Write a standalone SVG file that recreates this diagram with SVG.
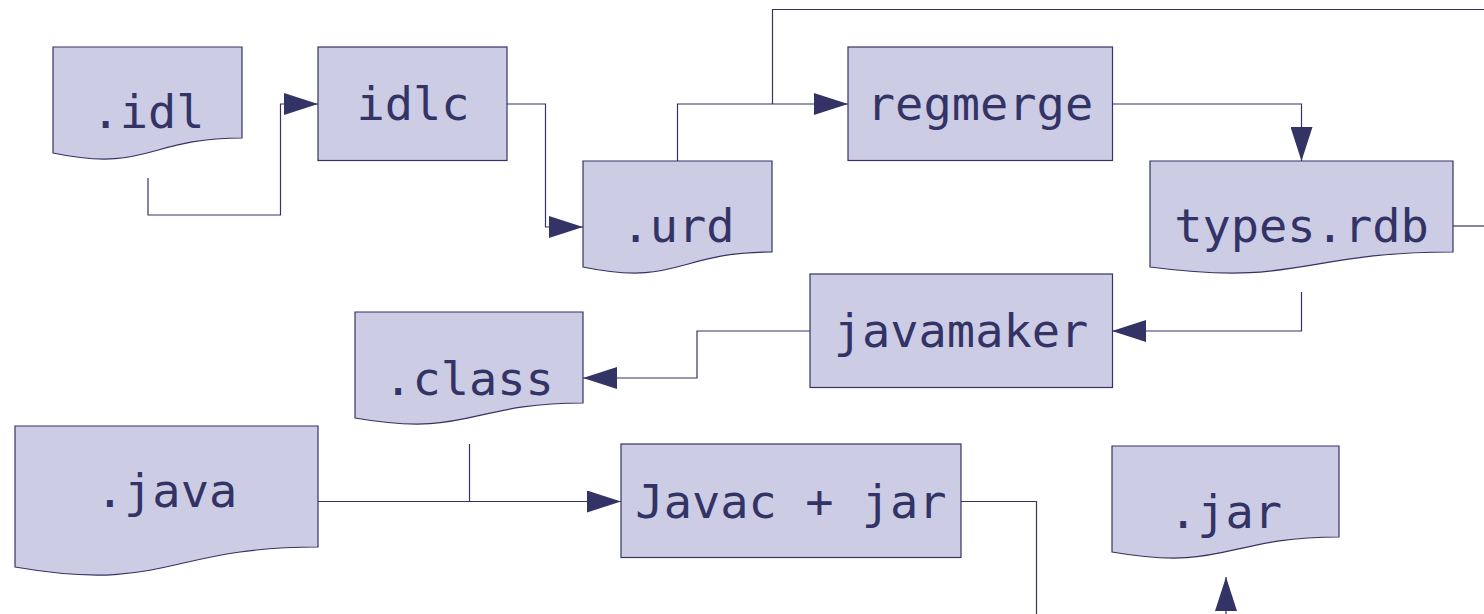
<svg xmlns="http://www.w3.org/2000/svg" width="1484" height="614" viewBox="0 0 1484 614">
<style>
.shape{fill:#cccce4;stroke:#333366;stroke-width:1.2}
.lbl{font-family:"DejaVu Sans Mono","Liberation Mono",monospace;font-size:47px;fill:#333366;text-anchor:middle}
.conn{fill:none;stroke:#333366;stroke-width:1.2}
</style>
<defs>
<marker id="arr" markerUnits="userSpaceOnUse" markerWidth="34" markerHeight="22" refX="34" refY="11" orient="auto">
<path d="M0,0 L34,11 L0,22 Z" fill="#333366"/>
</marker>
</defs>
<rect width="1484" height="614" fill="#ffffff"/>
<g id="connectors">
<path class="conn" d="M148,178 V215 H280.5 V104 H318" marker-end="url(#arr)"/>
<path class="conn" d="M507,104 H545.5 V227 H583" marker-end="url(#arr)"/>
<path class="conn" d="M677.5,161 V104 H848" marker-end="url(#arr)"/>
<path class="conn" d="M772.5,104 V9.5 H1484"/>
<path class="conn" d="M1112,104 H1301.5 V161" marker-end="url(#arr)"/>
<path class="conn" d="M1453,226 H1484"/>
<path class="conn" d="M1301.5,292 V331 H1112" marker-end="url(#arr)"/>
<path class="conn" d="M810,331 H697 V378 H583" marker-end="url(#arr)"/>
<path class="conn" d="M318,501.5 H621" marker-end="url(#arr)"/>
<path class="conn" d="M469.5,444 V501.5"/>
<path class="conn" d="M961,501.5 H1036.5 V614"/>
<path class="conn" d="M1226,614 V577" marker-end="url(#arr)"/>
</g>
<g id="idl">
<path class="shape" d="M53,47 H242 V138 C147.5,138 147.5,172.8 53,153 Z"/>
<text class="lbl" x="148" y="128">.idl</text>
</g>
<g id="idlc">
<rect class="shape" x="318" y="47" width="189" height="113.5"/>
<text class="lbl" x="413" y="120">idlc</text>
</g>
<g id="urd">
<path class="shape" d="M583,161 H772 V252 C677.5,252 677.5,286.8 583,267 Z"/>
<text class="lbl" x="678" y="242">.urd</text>
</g>
<g id="regmerge">
<rect class="shape" x="848" y="47" width="264.5" height="113.5"/>
<text class="lbl" x="980" y="120">regmerge</text>
</g>
<g id="typesrdb">
<path class="shape" d="M1150,161 H1453 V252 C1301.5,252 1301.5,286.8 1150,267 Z"/>
<text class="lbl" x="1301.5" y="242">types.rdb</text>
</g>
<g id="javamaker">
<rect class="shape" x="810" y="274" width="302.5" height="113.5"/>
<text class="lbl" x="961" y="347">javamaker</text>
</g>
<g id="class">
<path class="shape" d="M355,312 H583 V403 C469,403 469,437.8 355,418 Z"/>
<text class="lbl" x="469" y="395">.class</text>
</g>
<g id="java">
<path class="shape" d="M15,426 H318 V547 C166.5,547 166.5,593.3 15,567 Z"/>
<text class="lbl" x="166.5" y="507">.java</text>
</g>
<g id="javac">
<rect class="shape" x="621" y="444" width="340" height="113.5"/>
<text class="lbl" x="791" y="518">Javac + jar</text>
</g>
<g id="jar">
<path class="shape" d="M1112,446 H1339 V537 C1225.5,537 1225.5,571.8 1112,552 Z"/>
<text class="lbl" x="1225.5" y="528">.jar</text>
</g>
</svg>
